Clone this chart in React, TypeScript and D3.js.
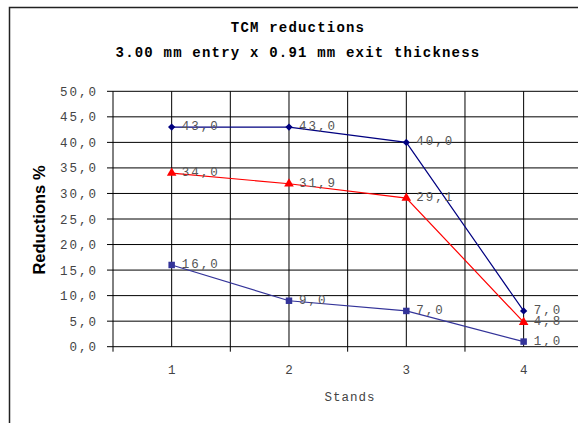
import React from "react";
import * as d3 from "d3";

const stands = ["1", "2", "3", "4"];
const seriesA = [43.0, 43.0, 40.0, 7.0];
const seriesB = [34.0, 31.9, 29.1, 4.8];
const seriesC = [16.0, 9.0, 7.0, 1.0];
const yTicks = [0, 5, 10, 15, 20, 25, 30, 35, 40, 45, 50];
const titleLines = ["TCM reductions", "3.00 mm entry x 0.91 mm exit thickness"];

const W = 578;
const H = 423;
const plot = { left: 113, right: 582.3, top: 91.3, bottom: 346.7 };
const mono = "'Liberation Mono', 'Courier New', monospace";

export default function App() {
  const x = d3.scaleBand<string>().domain(stands).range([plot.left, plot.right]).paddingInner(0).paddingOuter(0);
  const bw = x.bandwidth();
  const cx = (s: string) => (x(s) as number) + bw / 2;
  const y = d3.scaleLinear().domain([0, 50]).range([plot.bottom, plot.top]);
  const fmt = (v: number) => v.toFixed(1).replace(".", ",");

  const vLines: number[] = [];
  stands.forEach((s) => {
    vLines.push(x(s) as number);
    vLines.push(cx(s));
  });
  vLines.push(plot.right);

  const line = d3
    .line<number>()
    .x((_, i) => cx(stands[i]))
    .y((d) => y(d));

  const series = [
    { name: "A", values: seriesA, color: "#000080", shape: d3.symbolDiamond2, size: 34 },
    { name: "B", values: seriesB, color: "#FF0000", shape: d3.symbolTriangle, size: 40 },
    { name: "C", values: seriesC, color: "#333399", shape: d3.symbolSquare, size: 42 },
  ];

  return (
    <svg
      width={W}
      height={H}
      style={{ position: "absolute", left: 0, top: 0, background: "#fff" }}
    >
      <rect x={9.5} y={7.5} width={W + 20} height={H + 20} fill="#fff" stroke="#222" strokeWidth={1.5} />
      {titleLines.map((t, i) => (
        <text
          key={i}
          x={298}
          y={31.5 + i * 25}
          textAnchor="middle"
          fontFamily={mono}
          fontWeight="bold"
          fontSize={14}
          letterSpacing={1.2}
          fill="#000"
        >
          {t}
        </text>
      ))}
      {yTicks.map((t) => (
        <line key={"h" + t} x1={plot.left - 6} x2={plot.right} y1={y(t)} y2={y(t)} stroke="#000" strokeWidth={1} />
      ))}
      {vLines.map((v, i) => (
        <line key={"v" + i} x1={v} x2={v} y1={plot.top} y2={plot.bottom} stroke="#000" strokeWidth={1} />
      ))}
      {stands.map((s) => (
        <line key={"xt" + s} x1={x(s) as number} x2={x(s) as number} y1={plot.bottom} y2={plot.bottom + 5} stroke="#000" />
      ))}
      {yTicks.map((t) => (
        <text
          key={"yl" + t}
          x={98}
          y={y(t) + 4.5}
          textAnchor="end"
          fontFamily={mono}
          fontSize={12.5}
          letterSpacing={2}
          fill="#444"
        >
          {fmt(t)}
        </text>
      ))}
      {stands.map((s) => (
        <text key={"xl" + s} x={cx(s)} y={374} textAnchor="middle" fontFamily={mono} fontSize={12.5} fill="#444">
          {s}
        </text>
      ))}
      <text x={350} y={401} textAnchor="middle" fontFamily={mono} fontSize={12.5} letterSpacing={1} fill="#444">
        Stands
      </text>
      <text
        transform={`translate(45,220) rotate(-90)`}
        textAnchor="middle"
        fontFamily="'Liberation Sans', Arial, sans-serif"
        fontWeight="bold"
        fontSize={16.5}
        fill="#000"
      >
        Reductions %
      </text>
      {series.map((se) => (
        <g key={se.name}>
          <path d={line(se.values) || ""} fill="none" stroke={se.color} strokeWidth={1.2} />
          {se.values.map((v, i) => (
            <path
              key={i}
              d={d3.symbol().type(se.shape).size(se.size)() || ""}
              transform={`translate(${cx(stands[i])},${y(v)})`}
              fill={se.color}
            />
          ))}
          {se.values.map((v, i) => (
            <text
              key={"l" + i}
              x={cx(stands[i]) + 10}
              y={y(v) + 3}
              fontFamily={mono}
              fontSize={12.5}
              letterSpacing={2}
              fill="#555"
            >
              {fmt(v)}
            </text>
          ))}
        </g>
      ))}
    </svg>
  );
}
